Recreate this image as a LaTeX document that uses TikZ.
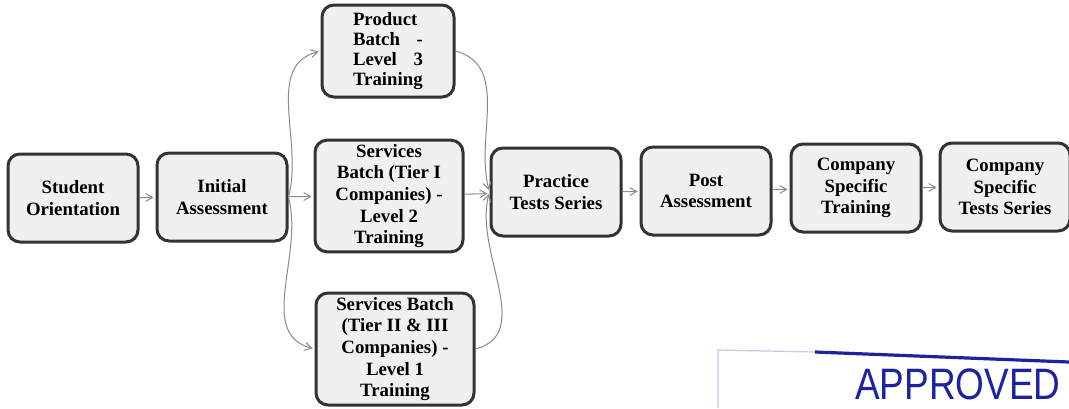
\documentclass[tikz,border=0pt]{standalone}
\usepackage{fontspec}
\setmainfont{Liberation Serif}
\newfontfamily\stampfont{Liberation Sans}
\usetikzlibrary{arrows}
\usetikzlibrary{positioning}
\definecolor{boxfill}{HTML}{F0F0F0}
\definecolor{boxline}{HTML}{333333}
\definecolor{linkgray}{HTML}{8A8A8A}
\definecolor{stampblue}{HTML}{1C22A0}
\tikzstyle{stage} = [rectangle, rounded corners=6pt, minimum width=65pt, minimum height=44pt, text centered, align=center, draw=boxline, line width=1.5pt, fill=boxfill, font=\bfseries\fontsize{9.4}{10.8}\selectfont, inner sep=2pt]
\tikzstyle{link} = [->, >=angle 60, draw=linkgray, line width=0.5pt, shorten >=1pt]

\begin{document}
\begin{tikzpicture}[x=0.5pt, y=-0.5pt]
\useasboundingbox[fill=white] (0,0) rectangle (1069,408);

% main chain
\node (orient) [stage] at (73,198) {Student\\Orientation};
\node (init) [stage] at (222,197) {Initial\\Assessment};
\node (prod) [stage, minimum width=66pt, minimum height=46pt, text width=35pt, align=left, font=\bfseries\fontsize{9.4}{9.9}\selectfont] at (388,51) {Product\\Batch\hfill-\\Level\hfill3\\Training};
\node (tierone) [stage, minimum width=74pt, minimum height=54pt] at (389,196) {Services\\Batch (Tier I\\Companies) -\\Level 2\\Training};
\node (tiertwo) [stage, minimum width=79pt, minimum height=56pt] at (395,349) {Services Batch\\(Tier II \& III\\Companies) -\\Level 1\\Training};
\node (practice) [stage] at (556,192) {Practice\\Tests Series};
\node (post) [stage] at (706,191) {Post\\Assessment};
\node (cotrain) [stage] at (856,188) {Company\\Specific\\Training};
\node (cotests) [stage] at (1005,187) {Company\\Specific\\Tests Series};

% connectors
\draw[link] (orient) -- (init);
\draw[link] (init.east) to[out=75, in=195] (prod.west);
\draw[link] (init) -- (tierone);
\draw[link] (init.east) to[out=-75, in=165] (tiertwo.west);
\draw[link] (prod.east) to[out=-15, in=105] (practice.west);
\draw[link] (tierone) -- (practice);
\draw[link] (tiertwo.east) to[out=15, in=-105] (practice.west);
\draw[link] (practice) -- (post);
\draw[link] (post) -- (cotrain);
\draw[link] (cotrain) -- (cotests);

% stamp
\draw[stampblue!25, line width=0.6pt] (718,408) -- (718,350) -- (815,352);
\draw[stampblue, line width=1.6pt] (815,352) -- (1069,362);
\node (stamp) [text=stampblue, font=\stampfont\fontsize{22}{24}\selectfont, anchor=east, inner sep=0pt] at (1061,384) {\scalebox{0.84}[1]{APPROVED}};
\end{tikzpicture}
\end{document}
